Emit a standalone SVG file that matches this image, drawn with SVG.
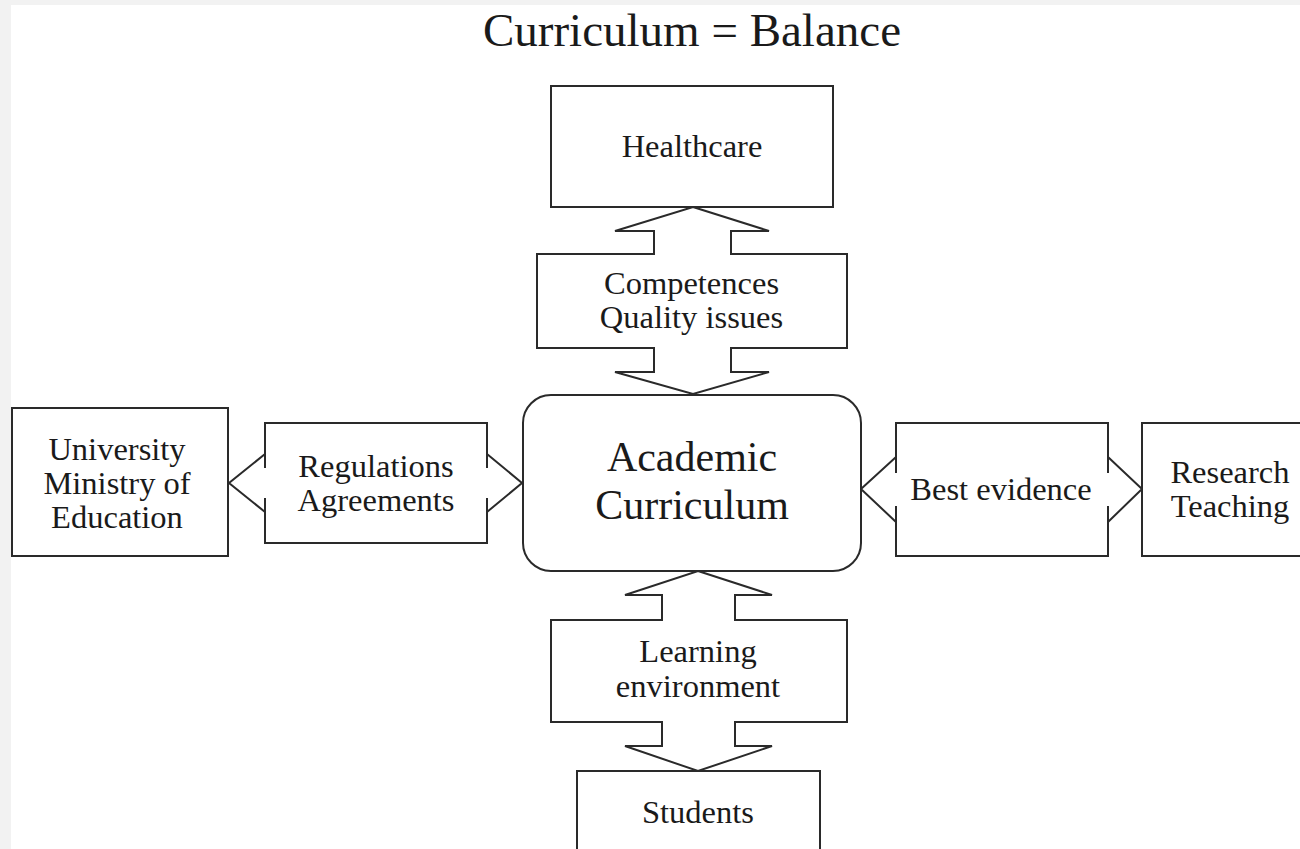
<svg xmlns="http://www.w3.org/2000/svg" width="1300" height="849" viewBox="0 0 1300 849">
<style>
.box{fill:#fff;stroke:#2a2a2a;stroke-width:2}
.arr{fill:#fff;stroke:#2a2a2a;stroke-width:2;stroke-linejoin:miter}
.ln{fill:none;stroke:#2a2a2a;stroke-width:2}
text{font-family:"Liberation Serif","Times New Roman",serif;fill:#1a1a1a;text-anchor:middle}
.t{font-size:32.5px}
.big{font-size:42px}
.title{font-size:47px}
</style>
<rect x="0" y="0" width="1300" height="849" fill="#f2f2f2"/>
<rect x="11" y="5" width="1289" height="844" fill="#fff"/>
<text class="title" x="692" y="46">Curriculum = Balance</text>
<g id="connectors">
  <g id="arrow-competences">
    <path class="arr" d="M693,207 L769,231 L731,231 L731,254 L847,254 L847,348 L731,348 L731,372 L769,372 L693,394 L615,372 L654,372 L654,348 L537,348 L537,254 L654,254 L654,231 L615,231 Z"/>
    <text class="t" x="691.5" y="294">Competences</text>
    <text class="t" x="691.5" y="328">Quality issues</text>
  </g>
  <g id="arrow-learning">
    <path class="arr" d="M698,571 L772,595 L735,595 L735,620 L847,620 L847,722 L735,722 L735,746 L772,746 L698,771 L625,746 L662,746 L662,722 L551,722 L551,620 L662,620 L662,595 L625,595 Z"/>
    <text class="t" x="698" y="662">Learning</text>
    <text class="t" x="698" y="697">environment</text>
  </g>
  <g id="arrow-regulations">
    <path class="ln" d="M265,468 V423 H487 V468 M487,454 L522,483 L487,512 M487,498 V543 H265 V498 M265,512 L229,483 L265,454"/>
    <text class="t" x="376" y="477">Regulations</text>
    <text class="t" x="376" y="511">Agreements</text>
  </g>
  <g id="arrow-evidence">
    <path class="ln" d="M896,473 V423 H1108 V473 M1108,457 L1142,489 L1108,522 M1108,506 V556 H896 V506 M896,522 L861,489 L896,457"/>
    <text class="t" x="1001" y="500">Best evidence</text>
  </g>
</g>
<g id="healthcare">
  <rect class="box" x="551" y="86" width="282" height="121"/>
  <text class="t" x="692" y="157">Healthcare</text>
</g>
<g id="academic-curriculum">
  <rect class="box" x="523" y="395" width="338" height="176" rx="28" ry="28"/>
  <text class="big" x="692" y="471">Academic</text>
  <text class="big" x="692" y="519">Curriculum</text>
</g>
<g id="university">
  <rect class="box" x="12" y="408" width="216" height="148"/>
  <text class="t" x="117" y="460">University</text>
  <text class="t" x="117" y="494">Ministry of</text>
  <text class="t" x="117" y="528">Education</text>
</g>
<g id="research">
  <rect class="box" x="1142" y="423" width="162" height="133"/>
  <text class="t" x="1230" y="483">Research</text>
  <text class="t" x="1230" y="517">Teaching</text>
</g>
<g id="students">
  <rect class="box" x="577" y="771" width="243" height="90"/>
  <text class="t" x="698" y="823">Students</text>
</g>
</svg>
